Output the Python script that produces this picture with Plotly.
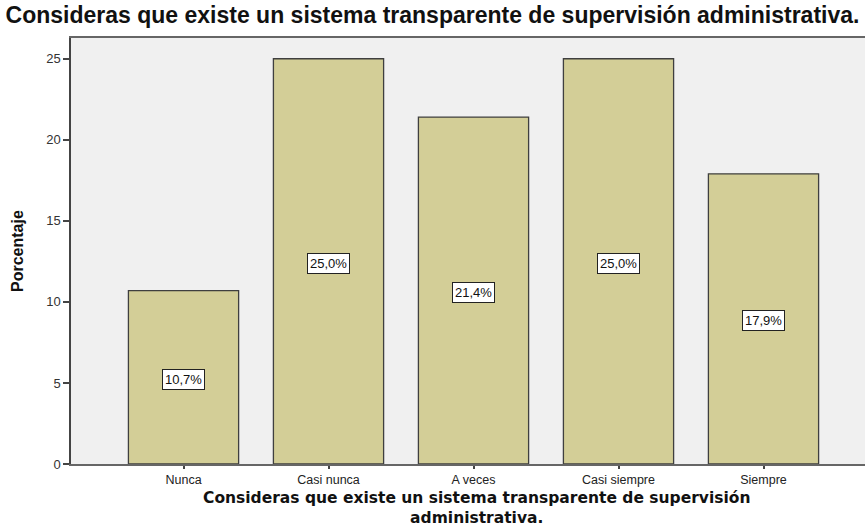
import plotly.graph_objects as go

categories = ["Nunca", "Casi nunca", "A veces", "Casi siempre", "Siempre"]
percentages = [10.7, 25.0, 21.4, 25.0, 17.9]
y_ticks = [0, 5, 10, 15, 20, 25]
title_text = "Consideras que existe un sistema transparente de supervisión administrativa."
x_title = "Consideras que existe un sistema transparente de supervisión<br>administrativa."
y_title = "Porcentaje"

labels = [f"{v:.1f}".replace(".", ",") + "%" for v in percentages]

fig = go.Figure()
fig.add_trace(go.Bar(
    x=categories, y=percentages,
    width=0.76,
    marker=dict(color="#D3CE97", line=dict(color="#3f3f3f", width=1.3)),
    hoverinfo="skip",
))

for c, v, t in zip(categories, percentages, labels):
    fig.add_annotation(
        x=c, y=v / 2, xref="x", yref="y", text=t, showarrow=False,
        font=dict(family="Liberation Sans, Arial", size=13, color="#111"),
        bgcolor="white", bordercolor="#222", borderwidth=1, borderpad=2,
        yshift=-2,
    )

plot_h = 528 - 38 - 64
fig.add_annotation(
    x=0.5, y=-(528 - 464) / plot_h, xref="paper", yref="paper",
    text="<b>" + x_title + "</b>", showarrow=False,
    font=dict(family="DejaVu Sans, Verdana", size=15.5, color="#111"),
    xanchor="center", yanchor="bottom", xshift=9, borderpad=0,
)
fig.add_annotation(
    x=-0.068, y=(464 - 251) / plot_h, xref="paper", yref="paper", text="<b>" + y_title + "</b>",
    showarrow=False, textangle=-90,
    font=dict(family="Liberation Sans Narrow, Arial Narrow, Liberation Sans", size=16, color="#111"),
    xanchor="center", yanchor="middle",
)

fig.update_layout(
    width=865, height=528,
    margin=dict(l=71, r=0, t=38, b=64),
    paper_bgcolor="white", plot_bgcolor="#F0F0F0",
    showlegend=False,
    title=dict(
        text="<b>" + title_text + "</b>", x=0.5, xanchor="center",
        y=1 - 15 / 528, yanchor="middle", yref="container",
        font=dict(family="Liberation Sans, Arial", size=23, color="#111"),
    ),
    xaxis=dict(
        range=[-0.776, 4.70], showgrid=False, showline=True, linecolor="#666",
        linewidth=1.5, mirror=True, ticks="outside", ticklen=3, tickcolor="#444",
        tickwidth=1.5,
        tickfont=dict(family="Liberation Sans, Arial", size=12.5, color="#222"),
        fixedrange=True,
    ),
    yaxis=dict(
        range=[0, 26.28], tickvals=y_ticks, showgrid=False, zeroline=False,
        showline=True, linecolor="#444", linewidth=1.5, ticks="outside",
        ticklen=6, tickcolor="#444", tickwidth=1.5,
        tickfont=dict(family="Liberation Sans, Arial", size=13, color="#333"),
        fixedrange=True,
    ),
)

fig.write_html("out.html", config={"displayModeBar": False},
               post_script="document.body.style.margin='0px';")
